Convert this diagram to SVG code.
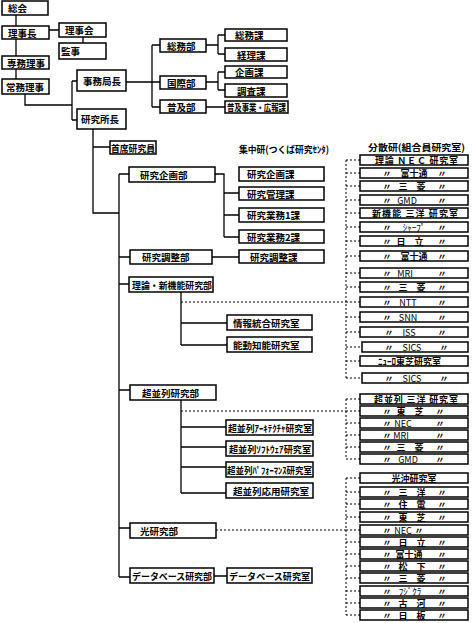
<svg xmlns="http://www.w3.org/2000/svg" width="472" height="623" viewBox="0 0 472 623">
<style>
rect{fill:#fff;stroke:#000;stroke-width:1.5}
.l{stroke:#000;stroke-width:1.3;fill:none}
.d{stroke:#000;stroke-width:1;stroke-dasharray:2 2;fill:none}
text{font-family:"Noto Sans CJK JP","Noto Sans",sans-serif;font-size:9.5px;font-weight:bold;dominant-baseline:central;fill:#000}
.c{text-anchor:middle}
.s{font-size:9px}
.n{font-weight:normal}
</style>
<rect x="0" y="0" width="472" height="623" style="stroke:none;fill:#fff"/>
<g id="connectors">
<path class="l" d="M16 15V26M16 39V56M16 69V79M49 30H59M83 37V43M25 94V105H72M72 81V120M72 81H77M72 120H77M126 82H152M152 45V107M152 45H160M152 82H160M152 107H160M206 45H218M218 35V54M218 35H225M218 54H225M206 82H218M218 72V90M218 72H225M218 90H225M206 107H225M93 129V213H119M93 147H110M119 174V577M119 174H129M119 257H130M119 284H129M119 390H130M119 528H130M119 577H130M215 174H224V237M224 193H239M224 215H239M224 237H239M212 257H239M181 292V345M181 323H227M181 345H227M181 400V493M181 427H226M181 447H226M181 467H226M181 493H226M214 576H227"/>
<path class="d" d="M181 302H346M181 411H346M216 530H346M346 160V378M346 399V459M346 478V615M346 160H360M346 173H360M346 186H360M346 200H360M346 213H360M346 227H360M346 241H360M346 256H360M346 273H360M346 287H360M346 302H360M346 317H360M346 332H360M346 347H360M346 361H360M346 378H360M346 399H360M346 411H360M346 423H360M346 435H360M346 447H360M346 459H360M346 478H360M346 492H360M346 504H360M346 517H360M346 530H360M346 542H360M346 554H360M346 566H360M346 578H360M346 591H360M346 603H360M346 615H360"/>
</g>
<g id="n-soukai"><rect x="2" y="1" width="46" height="14"/><text x="8" y="8">総会</text></g>
<g id="n-rijicho"><rect x="2" y="26" width="47" height="13"/><text x="8" y="32.5">理事長</text></g>
<g id="n-rijikai"><rect x="59" y="23" width="47" height="14"/><text x="65" y="30">理事会</text></g>
<g id="n-kanji"><rect x="59" y="43" width="47" height="16"/><text x="61" y="51">監事</text></g>
<g id="n-senmu"><rect x="2" y="56" width="47" height="13"/><text x="7" y="62.5">専務理事</text></g>
<g id="n-jomu"><rect x="2" y="79" width="47" height="15"/><text x="6" y="86.5">常務理事</text></g>
<g id="n-jimukyoku"><rect x="77" y="70" width="49" height="21"/><text x="83" y="80.5">事務局長</text></g>
<g id="n-kenkyusho"><rect x="77" y="109" width="49" height="20"/><text x="81" y="119">研究所長</text></g>
<g id="n-somubu"><rect x="160" y="39" width="46" height="13"/><text x="167" y="45.5">総務部</text></g>
<g id="n-kokusai"><rect x="160" y="76" width="46" height="13"/><text x="167" y="82.5">国際部</text></g>
<g id="n-fukyu"><rect x="160" y="100" width="46" height="13"/><text x="167" y="106.5">普及部</text></g>
<g id="n-somuka"><rect x="225" y="29" width="62" height="12"/><text x="235" y="35">総務課</text></g>
<g id="n-keiri"><rect x="225" y="48" width="62" height="13"/><text x="237" y="54.5">経理課</text></g>
<g id="n-kikakuka"><rect x="225" y="66" width="62" height="12"/><text x="235" y="72">企画課</text></g>
<g id="n-chosa"><rect x="225" y="84" width="62" height="13"/><text x="237" y="90.5">調査課</text></g>
<g id="n-kouhou"><rect x="225" y="101" width="63" height="12"/><text x="227" y="107" textLength="59" lengthAdjust="spacingAndGlyphs">普及事業・広報課</text></g>
<g id="n-shuseki"><rect x="110" y="141" width="46" height="13"/><text x="111" y="147.5" textLength="44" lengthAdjust="spacingAndGlyphs">首席研究員</text></g>
<g id="t-shuchu"><text x="239" y="149" textLength="90" lengthAdjust="spacingAndGlyphs">集中研(つくば研究ｾﾝﾀ)</text></g>
<g id="t-bunsan"><text x="368" y="147" textLength="97" lengthAdjust="spacingAndGlyphs">分散研(組合員研究室)</text></g>
<g id="n-kikakubu"><rect x="129" y="167" width="86" height="15"/><text x="140" y="174.5">研究企画部</text></g>
<g id="n-kikaku-ka"><rect x="239" y="167" width="85" height="14"/><text x="247" y="174">研究企画課</text></g>
<g id="n-kanri"><rect x="239" y="187" width="85" height="13"/><text x="247" y="193.5">研究管理課</text></g>
<g id="n-gyomu1"><rect x="239" y="208" width="85" height="14"/><text x="247" y="215">研究業務1課</text></g>
<g id="n-gyomu2"><rect x="239" y="230" width="85" height="13"/><text x="247" y="236.5">研究業務2課</text></g>
<g id="n-choseibu"><rect x="130" y="250" width="82" height="14"/><text x="142" y="257">研究調整部</text></g>
<g id="n-choseika"><rect x="239" y="250" width="85" height="13"/><text x="250" y="256.5">研究調整課</text></g>
<g id="n-riron"><rect x="129" y="277" width="84" height="15"/><text x="132" y="284.5" textLength="80" lengthAdjust="spacingAndGlyphs">理論・新機能研究部</text></g>
<g id="n-joho"><rect x="227" y="315" width="85" height="15"/><text x="233" y="322.5">情報統合研究室</text></g>
<g id="n-nodo"><rect x="227" y="337" width="85" height="15"/><text x="233" y="344.5">能動知能研究室</text></g>
<g id="n-choheiretsu"><rect x="130" y="385" width="86" height="15"/><text x="142" y="392.5">超並列研究部</text></g>
<g id="n-arch"><rect x="226" y="420" width="87" height="15"/><text x="228" y="427.5" textLength="84" lengthAdjust="spacingAndGlyphs">超並列ｱｰｷﾃｸﾁｬ研究室</text></g>
<g id="n-soft"><rect x="226" y="441" width="87" height="15"/><text x="229" y="448.5" textLength="82" lengthAdjust="spacingAndGlyphs">超並列ｿﾌﾄｳｪｱ研究室</text></g>
<g id="n-perf"><rect x="226" y="462" width="87" height="15"/><text x="227" y="469.5" textLength="85" lengthAdjust="spacingAndGlyphs">超並列ﾊﾟﾌｫｰﾏﾝｽ研究室</text></g>
<g id="n-oyo"><rect x="226" y="483" width="87" height="15"/><text x="233" y="490.5">超並列応用研究室</text></g>
<g id="n-hikari"><rect x="130" y="523" width="86" height="15"/><text x="140" y="530.5">光研究部</text></g>
<g id="n-dbbu"><rect x="130" y="568" width="84" height="15"/><text x="132" y="575.5" textLength="80" lengthAdjust="spacingAndGlyphs">データベース研究部</text></g>
<g id="n-dbshitsu"><rect x="227" y="568" width="85" height="15"/><text x="229" y="575.5" textLength="81" lengthAdjust="spacingAndGlyphs">データベース研究室</text></g>
<g id="r01"><rect x="360" y="155" width="108" height="10"/><text class="s" x="375" y="160" textLength="83">理論 ＮＥＣ 研究室</text></g>
<g id="r02"><rect x="360" y="168" width="108" height="10"/><text class="s c" y="173"><tspan x="387">〃</tspan><tspan x="414">富士通</tspan><tspan x="442">〃</tspan></text></g>
<g id="r03"><rect x="360" y="181" width="108" height="10"/><text class="s c" y="186"><tspan x="387">〃</tspan><tspan x="412">三　菱</tspan><tspan x="442">〃</tspan></text></g>
<g id="r04"><rect x="360" y="195" width="108" height="10"/><text class="s c" y="200"><tspan x="387">〃</tspan><tspan x="407" class="n">GMD</tspan><tspan x="442">〃</tspan></text></g>
<g id="r05"><rect x="360" y="208" width="108" height="10"/><text class="s" x="372" y="213" textLength="86">新機能 三洋 研究室</text></g>
<g id="r06"><rect x="360" y="222" width="108" height="10"/><text class="s c" y="227"><tspan x="387">〃</tspan><tspan x="414" class="n">ｼｬｰﾌﾟ</tspan><tspan x="442">〃</tspan></text></g>
<g id="r07"><rect x="360" y="236" width="108" height="10"/><text class="s c" y="241"><tspan x="387">〃</tspan><tspan x="410">日　立</tspan><tspan x="442">〃</tspan></text></g>
<g id="r08"><rect x="360" y="251" width="108" height="10"/><text class="s c" y="256"><tspan x="387">〃</tspan><tspan x="414">富士通</tspan><tspan x="442">〃</tspan></text></g>
<g id="r09"><rect x="360" y="268" width="108" height="10"/><text class="s c" y="273"><tspan x="387">〃</tspan><tspan x="405" class="n">MRI</tspan><tspan x="442">〃</tspan></text></g>
<g id="r10"><rect x="360" y="282" width="108" height="10"/><text class="s c" y="287"><tspan x="387">〃</tspan><tspan x="412">三　菱</tspan><tspan x="442">〃</tspan></text></g>
<g id="r11"><rect x="360" y="297" width="108" height="10"/><text class="s c" y="302"><tspan x="387">〃</tspan><tspan x="408" class="n">NTT</tspan><tspan x="442">〃</tspan></text></g>
<g id="r12"><rect x="360" y="312" width="108" height="10"/><text class="s c" y="317"><tspan x="387">〃</tspan><tspan x="408" class="n">SNN</tspan><tspan x="442">〃</tspan></text></g>
<g id="r13"><rect x="360" y="327" width="108" height="10"/><text class="s c" y="332"><tspan x="389">〃</tspan><tspan x="409" class="n">ISS</tspan><tspan x="442">〃</tspan></text></g>
<g id="r14"><rect x="362" y="342" width="106" height="10"/><text class="s c" y="347"><tspan x="389">〃</tspan><tspan x="412" class="n">SICS</tspan><tspan x="444">〃</tspan></text></g>
<g id="r15"><rect x="360" y="356" width="108" height="10"/><text class="s" x="378" y="361">ﾆｭｰﾛ東芝研究室</text></g>
<g id="r16"><rect x="362" y="373" width="106" height="10"/><text class="s c" y="378"><tspan x="389">〃</tspan><tspan x="412" class="n">SICS</tspan><tspan x="444">〃</tspan></text></g>
<g id="r17"><rect x="360" y="394" width="108" height="10"/><text class="s" x="374" y="399" textLength="84">超並列 三洋 研究室</text></g>
<g id="r18"><rect x="360" y="406" width="108" height="10"/><text class="s c" y="411"><tspan x="387">〃</tspan><tspan x="410">東　芝</tspan><tspan x="440">〃</tspan></text></g>
<g id="r19"><rect x="360" y="418" width="108" height="10"/><text class="s c" y="423"><tspan x="387">〃</tspan><tspan x="403" class="n">NEC</tspan><tspan x="440">〃</tspan></text></g>
<g id="r20"><rect x="360" y="430" width="108" height="10"/><text class="s c" y="435"><tspan x="387">〃</tspan><tspan x="401" class="n">MRI</tspan><tspan x="440">〃</tspan></text></g>
<g id="r21"><rect x="360" y="442" width="108" height="10"/><text class="s c" y="447"><tspan x="387">〃</tspan><tspan x="410">三　菱</tspan><tspan x="440">〃</tspan></text></g>
<g id="r22"><rect x="360" y="454" width="108" height="10"/><text class="s c" y="459"><tspan x="387">〃</tspan><tspan x="408" class="n">GMD</tspan><tspan x="440">〃</tspan></text></g>
<g id="r23"><rect x="360" y="473" width="108" height="10"/><text class="s c" x="414" y="478">光沖研究室</text></g>
<g id="r24"><rect x="360" y="487" width="108" height="10"/><text class="s c" y="492"><tspan x="387">〃</tspan><tspan x="412">三　洋</tspan><tspan x="442">〃</tspan></text></g>
<g id="r25"><rect x="360" y="499" width="108" height="10"/><text class="s c" y="504"><tspan x="387">〃</tspan><tspan x="412">住　電</tspan><tspan x="442">〃</tspan></text></g>
<g id="r26"><rect x="360" y="512" width="108" height="10"/><text class="s c" y="517"><tspan x="387">〃</tspan><tspan x="412">東　芝</tspan><tspan x="442">〃</tspan></text></g>
<g id="r27"><rect x="360" y="525" width="108" height="10"/><text class="s c" y="530"><tspan x="387">〃</tspan><tspan x="403" class="n">NEC</tspan><tspan x="419">〃</tspan></text></g>
<g id="r28"><rect x="360" y="537" width="108" height="10"/><text class="s c" y="542"><tspan x="387">〃</tspan><tspan x="412">日　立</tspan><tspan x="442">〃</tspan></text></g>
<g id="r29"><rect x="360" y="549" width="108" height="10"/><text class="s c" y="554"><tspan x="387">〃</tspan><tspan x="409">富士通</tspan><tspan x="442">〃</tspan></text></g>
<g id="r30"><rect x="360" y="561" width="108" height="10"/><text class="s c" y="566"><tspan x="387">〃</tspan><tspan x="412">松　下</tspan><tspan x="442">〃</tspan></text></g>
<g id="r31"><rect x="360" y="573" width="108" height="10"/><text class="s c" y="578"><tspan x="387">〃</tspan><tspan x="412">三　菱</tspan><tspan x="442">〃</tspan></text></g>
<g id="r32"><rect x="360" y="586" width="108" height="10"/><text class="s c" y="591"><tspan x="387">〃</tspan><tspan x="410" class="n">ﾌｼﾞｸﾗ</tspan><tspan x="442">〃</tspan></text></g>
<g id="r33"><rect x="360" y="598" width="108" height="10"/><text class="s c" y="603"><tspan x="387">〃</tspan><tspan x="412">古　河</tspan><tspan x="442">〃</tspan></text></g>
<g id="r34"><rect x="360" y="610" width="108" height="10"/><text class="s c" y="615"><tspan x="387">〃</tspan><tspan x="412">日　板</tspan><tspan x="442">〃</tspan></text></g>
</svg>
